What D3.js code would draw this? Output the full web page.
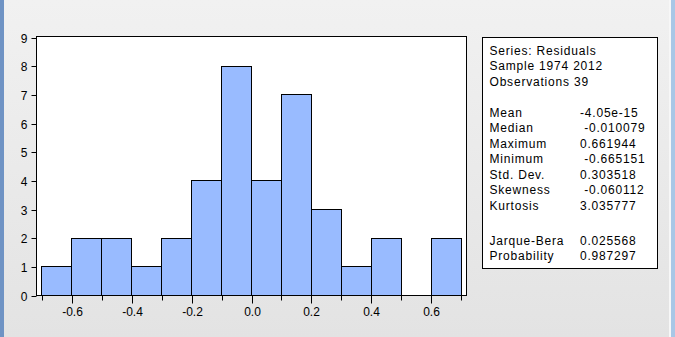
<!DOCTYPE html>
<html>
<head>
<meta charset="utf-8">
<title>Residuals histogram</title>
<script src="https://d3js.org/d3.v7.min.js"></script>
<style>
  body { margin: 0; background: #f0f0f0; }
  svg { display: block; }
  text { font-family: Arial, "Liberation Sans", sans-serif; font-size: 12px; fill: #000; }
</style>
</head>
<body>
<div id="chart"></div>
<script>

// histogram bins (edges) and counts
var binStarts = [-0.7, -0.6, -0.5, -0.4, -0.3, -0.2, -0.1, 0.0, 0.1, 0.2, 0.3, 0.4, 0.5, 0.6];
var binWidth = 0.1;
var counts = [1, 2, 2, 1, 2, 4, 8, 4, 7, 3, 1, 2, 0, 2];

var xTickLabels = [-0.6, -0.4, -0.2, 0.0, 0.2, 0.4, 0.6];
var xMinorTicks = [-0.7, -0.5, -0.3, -0.1, 0.1, 0.3, 0.5, 0.7];
var yTicks = [0, 1, 2, 3, 4, 5, 6, 7, 8, 9];

// stats box text
var headerLines = ["Series: Residuals", "Sample 1974 2012", "Observations 39"];
var statNames = ["Mean", "Median", "Maximum", "Minimum", "Std. Dev.", "Skewness", "Kurtosis"];
var statValues = ["-4.05e-15", " -0.010079", "0.661944", " -0.665151", "0.303518", " -0.060112", "3.035777"];
var testNames = ["Jarque-Bera", "Probability"];
var testValues = ["0.025568", "0.987297"];

var W = 675, H = 337;

var svg = d3.select("#chart")
  .append("svg")
    .attr("width", W)
    .attr("height", H);

// window background
var grad = svg.append("defs").append("linearGradient")
    .attr("id", "bg").attr("x1", 0).attr("y1", 0).attr("x2", 0).attr("y2", 1);
grad.append("stop").attr("offset", "0%").attr("stop-color", "#f1f1f1");
grad.append("stop").attr("offset", "100%").attr("stop-color", "#e3e3e3");
svg.append("rect").attr("width", W).attr("height", H).attr("fill", "url(#bg)");

// window frame edges
svg.append("rect").attr("x", 0).attr("y", 0).attr("width", 4).attr("height", H).attr("fill", "#6f93c4");
svg.append("rect").attr("x", 669).attr("y", 0).attr("width", 2).attr("height", H).attr("fill", "#f7f7f7");
svg.append("rect").attr("x", 671).attr("y", 0).attr("width", 4).attr("height", H).attr("fill", "#a9c7e6");

// plot area
var plot = {left: 36, right: 466, top: 36, bottom: 295};

var x = d3.scaleLinear()
  .domain([-0.7167, 0.7167])
  .range([plot.left, plot.right]);

var y = d3.scaleLinear()
  .domain([0, 9])
  .range([plot.bottom, plot.top + 1]);

svg.append("rect")
  .attr("x", plot.left + 0.5).attr("y", plot.top + 0.5)
  .attr("width", plot.right - plot.left).attr("height", plot.bottom - plot.top)
  .attr("fill", "#fff").attr("stroke", "#000").attr("stroke-width", 1);

// bars
var bins = binStarts.map(function(b, i) { return {x0: b, n: counts[i]}; })
  .filter(function(d) { return d.n > 0; });

svg.append("g")
  .selectAll("rect")
  .data(bins)
  .enter().append("rect")
    .attr("x", function(d) { return Math.round(x(d.x0)) + 0.5; })
    .attr("y", function(d) { return Math.round(y(d.n)) + 0.5; })
    .attr("width", function(d) { return Math.round(x(d.x0 + binWidth)) - Math.round(x(d.x0)); })
    .attr("height", function(d) { return Math.round(y(0)) - Math.round(y(d.n)); })
    .attr("fill", "#99bbff")
    .attr("stroke", "#000")
    .attr("stroke-width", 1);

// plain hyphen for negatives, like the original
var fmt1 = function(d) { return d3.format(".1f")(d).replace("\u2212", "-"); };

// Y axis
var yAxis = svg.append("g")
  .attr("transform", "translate(" + (plot.left + 0.5) + ",0.5)")
  .call(d3.axisLeft(y).tickValues(yTicks).tickSize(5).tickPadding(4).tickFormat(d3.format("d")));
yAxis.select(".domain").remove();
yAxis.selectAll("text").style("font-size", "12px").attr("dy", "0.35em");

// X axis: major ticks with labels
var xAxis = svg.append("g")
  .attr("transform", "translate(0.5," + (plot.bottom + 0.5) + ")")
  .call(d3.axisBottom(x).tickValues(xTickLabels).tickSize(8).tickPadding(3).tickFormat(fmt1));
xAxis.select(".domain").remove();
xAxis.selectAll("text").style("font-size", "12px").attr("dy", "0.8em");

// X axis: minor ticks
var xMinor = svg.append("g")
  .attr("transform", "translate(0.5," + (plot.bottom + 0.5) + ")")
  .call(d3.axisBottom(x).tickValues(xMinorTicks).tickSize(5).tickFormat(""));
xMinor.select(".domain").remove();

// snap ticks to whole pixels
svg.selectAll(".tick").attr("transform", function(d) {
  var t = d3.select(this).attr("transform");
  return t.replace(/translate\(([-\d.]+),([-\d.]+)\)/, function(m, a, b) {
    return "translate(" + Math.round(+a) + "," + Math.round(+b) + ")";
  });
});

// stats box
var box = {left: 482, right: 657, top: 37, bottom: 268};
svg.append("rect")
  .attr("x", box.left + 0.5).attr("y", box.top + 0.5)
  .attr("width", box.right - box.left).attr("height", box.bottom - box.top)
  .attr("fill", "#fff").attr("stroke", "#000");

var lineH = 15.5;
var firstBase = 54.5;
var labelX = 489.5, valueX = 580;

var txt = svg.append("g").attr("class", "stats").style("letter-spacing", "0.8px");

txt.selectAll("text.head")
  .data(headerLines)
  .enter().append("text")
    .attr("class", "head")
    .attr("x", labelX)
    .attr("y", function(d, i) { return firstBase + i * lineH; })
    .text(function(d) { return d; });

txt.selectAll("text.sname")
  .data(statNames)
  .enter().append("text")
    .attr("class", "sname")
    .attr("x", labelX)
    .attr("y", function(d, i) { return firstBase + (i + 4) * lineH; })
    .text(function(d) { return d; });

txt.selectAll("text.sval")
  .data(statValues)
  .enter().append("text")
    .attr("class", "sval")
    .attr("x", valueX)
    .attr("y", function(d, i) { return firstBase + (i + 4) * lineH; })
    .style("white-space", "pre")
    .text(function(d) { return d; });

var testBase = firstBase + 10 * lineH + 35;
txt.selectAll("text.tname")
  .data(testNames)
  .enter().append("text")
    .attr("class", "tname")
    .attr("x", labelX)
    .attr("y", function(d, i) { return testBase + i * lineH; })
    .text(function(d) { return d; });

txt.selectAll("text.tval")
  .data(testValues)
  .enter().append("text")
    .attr("class", "tval")
    .attr("x", valueX)
    .attr("y", function(d, i) { return testBase + i * lineH; })
    .text(function(d) { return d; });

</script>
</body>
</html>
